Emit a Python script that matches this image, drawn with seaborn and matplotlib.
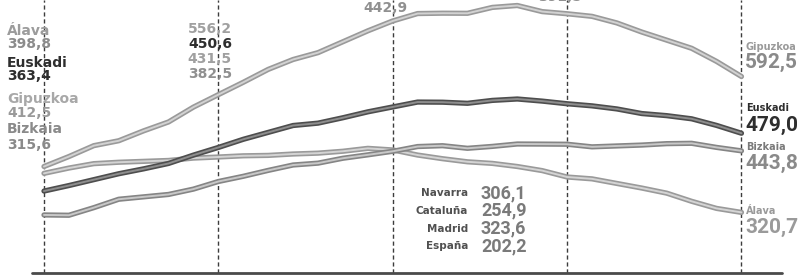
import numpy as np
import pandas as pd
import matplotlib
matplotlib.use("Agg")
import matplotlib.pyplot as plt
import matplotlib.patheffects as pe
import seaborn as sns

# datos (periodos, cortes con linea discontinua cada 7)
periodo = list(range(29))
marcas = [0, 7, 14, 21, 28]

gipuzkoa = [412.5, 432.4, 454.2, 464.0, 483.8, 501.6, 531.3, 556.2, 580.9, 606.7,
            626.5, 640.2, 662.0, 683.8, 703.6, 718.4, 719.1, 718.9, 730.7, 734.5,
            722.3, 718.0, 712.8, 699.6, 681.4, 665.2, 648.9, 622.7, 592.5]
euskadi = [363.4, 374.4, 386.2, 398.0, 407.8, 418.6, 435.3, 450.6, 466.9, 480.7,
           494.5, 499.2, 510.0, 521.8, 531.6, 541.4, 541.1, 538.9, 544.7, 547.5,
           543.3, 538.0, 533.8, 527.6, 518.4, 514.2, 507.9, 494.7, 479.0]
bizkaia = [315.6, 315.0, 330.2, 347.0, 351.8, 356.6, 367.3, 382.5, 392.9, 404.7,
           415.5, 419.2, 429.0, 435.8, 442.9, 452.4, 454.1, 448.9, 452.7, 457.5,
           457.3, 457.0, 451.8, 453.6, 455.4, 458.2, 458.9, 450.7, 443.8]
alava = [398.8, 409.4, 418.2, 421.0, 422.8, 424.6, 429.3, 431.5, 433.9, 434.7,
         437.5, 439.2, 443.0, 448.8, 445.6, 435.4, 428.1, 421.9, 418.7, 412.5,
         404.3, 391.5, 387.8, 378.6, 369.4, 359.2, 342.9, 328.7, 320.7]

otros = ["Navarra", "Cataluña", "Madrid", "España"]
otros_val = ["306,1", "254,9", "323,6", "202,2"]

orden = ["Álava", "Bizkaia", "Euskadi", "Gipuzkoa"]
df = pd.DataFrame({"periodo": periodo, "Gipuzkoa": gipuzkoa, "Euskadi": euskadi,
                   "Bizkaia": bizkaia, "Álava": alava})
df = df.melt(id_vars="periodo", var_name="territorio", value_name="valor")

centro = {"Gipuzkoa": "#d2d2d2", "Euskadi": "#8e8e8e", "Bizkaia": "#c8c8c8", "Álava": "#d4d4d4"}
borde = {"Gipuzkoa": "#9a9a9a", "Euskadi": "#4e4e4e", "Bizkaia": "#858585", "Álava": "#9a9a9a"}

sns.set_theme(style="white")
plt.rcParams["font.family"] = ["DejaVu Sans"]

fig = plt.figure(figsize=(8, 2.8), dpi=100)
ax = fig.add_axes([0, 0, 1, 1])

for m in marcas:
    ax.axvline(m, ymin=(200 - 185.5) / 560, ymax=1, color="#3c3c3c", lw=1.0,
               ls=(0, (3, 2)), zorder=1)

sns.lineplot(data=df, x="periodo", y="valor", hue="territorio", hue_order=orden,
             palette=centro, lw=1.4, legend=False, ax=ax, zorder=3)
for line, t in zip(ax.lines[len(marcas):], orden):
    line.set_path_effects([pe.Stroke(linewidth=3.8, foreground=borde[t]), pe.Normal()])

ax.axhline(200, xmin=0.04, xmax=0.978, color="#4a4a4a", lw=2, zorder=2)

ax.set_xlim(-1.766, 30.35)
ax.set_ylim(185.5, 745.5)
ax.axis("off")


def txt(x, y, s, **kw):
    fig.text(x / 800, 1 - y / 280, s, va="center", **kw)


oscuro = "#2e2e2e"

# columna izquierda
txt(7, 31, "Álava", color="#9c9c9c", fontsize=10, fontweight="bold")
txt(7, 43.5, "398,8", color="#8c8c8c", fontsize=10, fontweight="bold")
txt(7, 63, "Euskadi", color=oscuro, fontsize=10, fontweight="bold")
txt(7, 76, "363,4", color=oscuro, fontsize=10, fontweight="bold")
txt(7, 99, "Gipuzkoa", color="#a8a8a8", fontsize=10, fontweight="bold")
txt(7, 113, "412,5", color="#9a9a9a", fontsize=10, fontweight="bold")
txt(7, 129, "Bizkaia", color="#8a8a8a", fontsize=10, fontweight="bold")
txt(7, 145, "315,6", color="#8a8a8a", fontsize=10, fontweight="bold")

# segunda columna
txt(232, 29, "556,2", color="#a0a0a0", fontsize=10, fontweight="bold", ha="right")
txt(232, 44, "450,6", color=oscuro, fontsize=10, fontweight="bold", ha="right")
txt(232, 59, "431,5", color="#a0a0a0", fontsize=10, fontweight="bold", ha="right")
txt(232, 74, "382,5", color="#909090", fontsize=10, fontweight="bold", ha="right")

# columnas cortadas arriba
txt(408, 8, "442,9", color="#909090", fontsize=10, fontweight="bold", ha="right")
txt(582, -3, "391,5", color="#909090", fontsize=10, fontweight="bold", ha="right")

# derecha
txt(746, 47, "Gipuzkoa", color="#9a9a9a", fontsize=7, fontweight="bold")
txt(745, 62, "592,5", color="#8a8a8a", fontsize=15, fontweight="bold", family="Roboto")
txt(746, 108, "Euskadi", color=oscuro, fontsize=7, fontweight="bold")
txt(745, 125, "479,0", color=oscuro, fontsize=15, fontweight="bold", family="Roboto")
txt(746, 147, "Bizkaia", color="#7a7a7a", fontsize=7, fontweight="bold")
txt(745, 163, "443,8", color="#8a8a8a", fontsize=15, fontweight="bold", family="Roboto")
txt(746, 211, "Álava", color="#9a9a9a", fontsize=7, fontweight="bold")
txt(745, 227, "320,7", color="#9a9a9a", fontsize=15, fontweight="bold", family="Roboto")

# recuadro otras comunidades
for i, (n, v) in enumerate(zip(otros, otros_val)):
    y = 193 + i * 17.8
    txt(468, y, n, color="#505050", fontsize=7.5, fontweight="bold", ha="right")
    txt(481, y, v, color="#7a7a7a", fontsize=13, fontweight="bold", family="Roboto")

fig.savefig("out.png", dpi=100, facecolor="white")
